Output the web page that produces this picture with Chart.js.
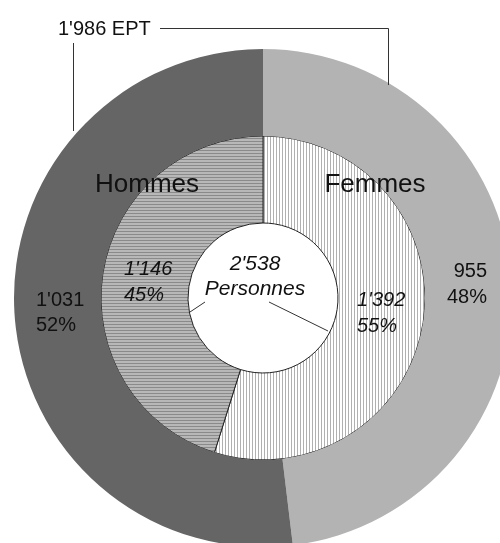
<!DOCTYPE html>
<html>
<head>
<meta charset="utf-8">
<script src="https://cdn.jsdelivr.net/npm/chart.js@4/dist/chart.umd.min.js"></script>
<style>
    html, body { margin: 0; padding: 0; background: #fff; overflow: hidden; }
    #wrap { position: absolute; left: 0; top: 0; width: 526px; height: 596px; }
</style>
</head>
<body>
<div id="wrap"><canvas id="genderChart" width="526" height="596"></canvas></div>
<script>
// order: Femmes first (starts at 12 o'clock, clockwise)
const groups = ['Femmes', 'Hommes'];
const eptValues = [955, 1031];
const eptPct = ['48%', '52%'];
const personValues = [1392, 1146];
const personPct = ['55%', '45%'];
const eptTotal = "1'986 EPT";
const personTotal = ["2'538", 'Personnes'];

const fmt = v => String(v).replace(/\B(?=(\d{3})+(?!\d))/g, "'");

function stripePattern(size, vertical, bg, fg) {
    const c = document.createElement('canvas');
    c.width = size;
    c.height = size;
    const g = c.getContext('2d');
    g.fillStyle = bg;
    g.fillRect(0, 0, size, size);
    g.fillStyle = fg;
    if (vertical) g.fillRect(0, 0, 1, size);
    else g.fillRect(0, 0, size, 1);
    return g.createPattern(c, 'repeat');
}

const FONT = '"Liberation Sans", Arial, sans-serif';

const annotations = {
    id: 'annotations',
    afterDraw(chart) {
        const ctx = chart.ctx;
        ctx.save();

        // EPT leader lines
        ctx.strokeStyle = '#333';
        ctx.lineWidth = 1;
        ctx.beginPath();
        ctx.moveTo(160, 28.5); ctx.lineTo(388.5, 28.5); ctx.lineTo(388.5, 85);
        ctx.moveTo(73.5, 43); ctx.lineTo(73.5, 131);
        // center leader lines
        ctx.moveTo(205, 302); ctx.lineTo(190, 312);
        ctx.moveTo(269, 302); ctx.lineTo(328, 331);
        ctx.stroke();

        ctx.fillStyle = '#111';
        ctx.textBaseline = 'alphabetic';

        ctx.font = '20px ' + FONT;
        ctx.textAlign = 'left';
        ctx.fillText(eptTotal, 58, 35);

        ctx.font = '26px ' + FONT;
        ctx.textAlign = 'center';
        ctx.fillText(groups[1], 147, 192);
        ctx.fillText(groups[0], 375, 192);

        // outer ring (EPT)
        ctx.font = '20px ' + FONT;
        ctx.textAlign = 'left';
        ctx.fillText(fmt(eptValues[1]), 36, 306);
        ctx.fillText(eptPct[1], 36, 331);
        ctx.textAlign = 'right';
        ctx.fillText(fmt(eptValues[0]), 487, 277);
        ctx.fillText(eptPct[0], 487, 303);

        // inner ring (persons)
        ctx.font = 'italic 20px ' + FONT;
        ctx.textAlign = 'left';
        ctx.fillText(fmt(personValues[1]), 124, 275);
        ctx.fillText(personPct[1], 124, 301);
        ctx.fillText(fmt(personValues[0]), 357, 306);
        ctx.fillText(personPct[0], 357, 332);

        ctx.font = 'italic 21px ' + FONT;
        ctx.textAlign = 'center';
        ctx.fillText(personTotal[0], 255, 270);
        ctx.fillText(personTotal[1], 255, 295);

        ctx.restore();
    }
};

const canvas = document.getElementById('genderChart');

new Chart(canvas, {
    type: 'doughnut',
    data: {
        labels: groups,
        datasets: [
            {
                label: 'EPT',
                data: eptValues,
                backgroundColor: ['#b3b3b3', '#656565'],
                borderWidth: 0,
            },
            {
                label: 'Personnes',
                data: personValues,
                backgroundColor: [
                    stripePattern(3, true, '#ffffff', '#b0b0b0'),
                    stripePattern(3, false, '#b8b8b8', '#8a8a8a'),
                ],
                borderColor: '#222',
                borderWidth: 1,
            },
        ],
    },
    options: {
        responsive: false,
        animation: false,
        radius: 249,
        cutout: '30.12%',
        layout: { padding: 0 },
        plugins: {
            legend: { display: false },
            tooltip: { enabled: false },
        },
    },
    plugins: [annotations],
});
</script>
</body>
</html>
